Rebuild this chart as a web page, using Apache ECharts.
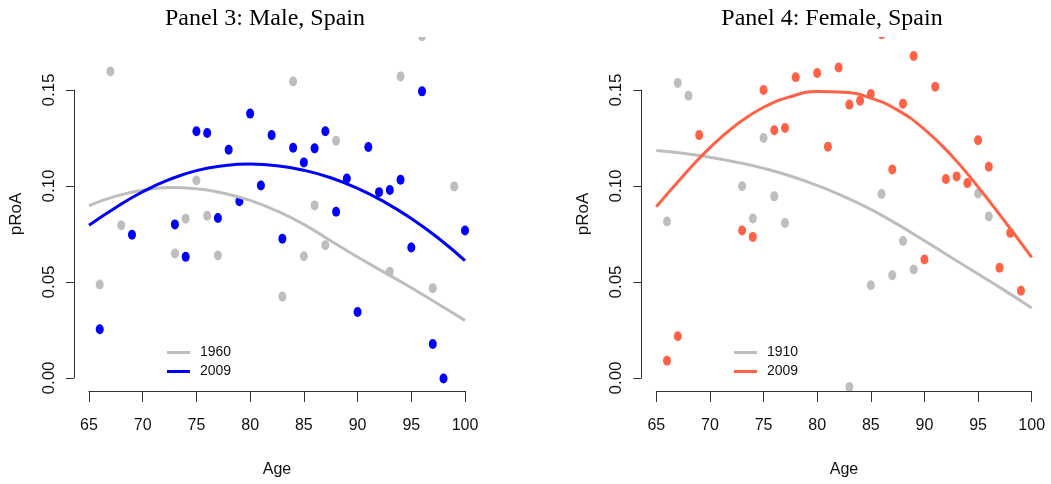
<!DOCTYPE html>
<html>
<head>
<meta charset="utf-8">
<script src="https://cdn.jsdelivr.net/npm/echarts@6/dist/echarts.min.js"></script>
<style>
  html, body { margin: 0; padding: 0; background: #fff; }
  #chart { width: 1051px; height: 484px; }
</style>
</head>
<body>
<div id="chart"></div>
<script>
// ---- data ----
const xTickLabels = ['65', '70', '75', '80', '85', '90', '95', '100']
const yTickLabels = ['0.00', '0.05', '0.10', '0.15']

// Panel 3: Male, Spain
const maleAges1960 = [66, 67, 68, 73, 74, 75, 76, 77, 83, 84, 85, 86, 87, 88, 93, 94, 96, 97, 99]
const maleRoA1960 = [0.0487, 0.1596, 0.0796, 0.0648, 0.0829, 0.1029, 0.0845, 0.0638, 0.0424, 0.1544,
  0.0634, 0.0899, 0.0692, 0.1236, 0.0553, 0.157, 0.178, 0.0468, 0.0998]
const maleAges2009 = [66, 69, 73, 74, 75, 76, 77, 78, 79, 80, 81, 82, 83, 84, 85, 86, 87, 88, 89, 90,
  91, 92, 93, 94, 95, 96, 97, 98, 100]
const maleRoA2009 = [0.0254, 0.0746, 0.080, 0.0631, 0.1285, 0.1276, 0.0833, 0.1189, 0.0921, 0.1377,
  0.1003, 0.1265, 0.0725, 0.1199, 0.1123, 0.1196, 0.1285, 0.0866, 0.1039, 0.0344,
  0.1203, 0.0968, 0.0979, 0.1033, 0.068, 0.1493, 0.0177, -0.0003, 0.0768]

// Panel 4: Female, Spain
const femaleAges1910 = [66, 67, 68, 73, 74, 75, 76, 77, 83, 85, 86, 87, 88, 89, 95, 96]
const femaleRoA1910 = [0.0815, 0.1537, 0.147, 0.0999, 0.0831, 0.125, 0.0946, 0.0807, -0.0047, 0.0483,
  0.0958, 0.0535, 0.0714, 0.0565, 0.0961, 0.0841]
const femaleAges2009 = [66, 67, 69, 73, 74, 75, 76, 77, 78, 80, 81, 82, 83, 84, 85, 86, 87, 88, 89, 90,
  91, 92, 93, 94, 95, 96, 97, 98, 99]
const femaleRoA2009 = [0.009, 0.0217, 0.1265, 0.0768, 0.0735, 0.150, 0.129, 0.1302, 0.1566, 0.1589,
  0.1205, 0.1617, 0.1424, 0.1444, 0.1479, 0.179, 0.1086, 0.1429, 0.1677, 0.0617,
  0.1517, 0.1036, 0.105, 0.1015, 0.1238, 0.110, 0.0574, 0.0756, 0.0454]

// fitted curves
const curveAges = [65, 67.5, 70, 72.5, 75, 77.5, 80, 82.5, 85, 87.5, 90, 92.5, 95, 97.5, 100]
const maleCurve1960 = [0.0898, 0.0947, 0.0978, 0.0992, 0.0986, 0.0963, 0.0925, 0.0870, 0.0800, 0.0715,
  0.0630, 0.0550, 0.0470, 0.0385, 0.0300]
const maleCurve2009 = [0.0796, 0.0888, 0.0970, 0.1034, 0.1080, 0.1105, 0.1114, 0.1106, 0.1082, 0.1043,
  0.0988, 0.0917, 0.0831, 0.0729, 0.0611]
const femaleCurve1910 = [0.1185, 0.1170, 0.1150, 0.1124, 0.1092, 0.1052, 0.1003, 0.0945, 0.0878, 0.0800,
  0.0715, 0.0628, 0.0542, 0.0455, 0.0365]
const femaleCurve2009 = [0.0892, 0.1052, 0.1200, 0.1320, 0.1410, 0.1465, 0.1492, 0.1488, 0.1458, 0.1395,
  0.1295, 0.1160, 0.0995, 0.0815, 0.0628]

const GRAY = '#BEBEBE'
const BLUE = '#0000FF'
const TOMATO = '#FF6347'
const AXIS = '#333'
const SANS = '"Liberation Sans", Arial, sans-serif'

const panels = [
  {
    title: 'Panel 3: Male, Spain', titleX: 260,
    x65: 89, x100: 465, y15: 90, y0: 378, top: 37, bottom: 391,
    old: { key: 'm1960', ages: maleAges1960, vals: maleRoA1960, curve: maleCurve1960, color: GRAY },
    now: { key: 'm2009', ages: maleAges2009, vals: maleRoA2009, curve: maleCurve2009, color: BLUE },
    legendLeft: 167
  },
  {
    title: 'Panel 4: Female, Spain', titleX: 827,
    x65: 656.3, x100: 1031.7, y15: 90, y0: 378, top: 37, bottom: 391,
    old: { key: 'f1910', ages: femaleAges1910, vals: femaleRoA1910, curve: femaleCurve1910, color: GRAY },
    now: { key: 'f2009', ages: femaleAges2009, vals: femaleRoA2009, curve: femaleCurve2009, color: TOMATO },
    legendLeft: 734
  }
]

function pairs(xs, ys) {
  return xs.map((x, i) => [x, ys[i]])
}

const option = {
  backgroundColor: '#fff',
  animation: false,
  title: [], grid: [], xAxis: [], yAxis: [], series: [], legend: [], graphic: []
}

panels.forEach((p, k) => {
  const pxYear = (p.x100 - p.x65) / 35
  const pxUnit = (p.y0 - p.y15) / 0.15
  const left = p.x65 - 1.4 * pxYear
  const width = (p.x100 - p.x65) + 2.8 * pxYear
  const yMin = -(p.bottom - p.y0) / pxUnit
  const yMax = 0.15 + (p.y15 - p.top) / pxUnit
  const g = k * 3

  // data grid (R plot region)
  option.grid.push({ left: left, top: p.top, width: width, height: p.bottom - p.top })
  option.xAxis.push({ gridIndex: g, type: 'value', min: 63.6, max: 101.4, show: false })
  option.yAxis.push({ gridIndex: g, type: 'value', min: yMin, max: yMax, show: false })

  // x axis from 65 to 100
  option.grid.push({ left: p.x65, top: p.top, width: p.x100 - p.x65, height: p.bottom - p.top })
  option.xAxis.push({
    gridIndex: g + 1, type: 'value', min: 65, max: 100, interval: 5, z: 100,
    axisLine: { show: true, lineStyle: { color: AXIS, width: 1 } },
    axisTick: { show: true, length: 11, lineStyle: { color: AXIS } },
    axisLabel: { margin: 27, fontFamily: SANS, fontSize: 16, color: '#111',
      formatter: (v) => xTickLabels[Math.round((v - 65) / 5)] },
    splitLine: { show: false }
  })
  option.yAxis.push({ gridIndex: g + 1, type: 'value', show: false })

  // y axis from 0 to 0.15
  option.grid.push({ left: left, top: p.y15, width: width, height: p.y0 - p.y15 })
  option.xAxis.push({ gridIndex: g + 2, type: 'value', show: false })
  option.yAxis.push({
    gridIndex: g + 2, type: 'value', min: 0, max: 0.15, interval: 0.05, z: 100,
    axisLine: { show: true, lineStyle: { color: AXIS, width: 1 } },
    axisTick: { show: true, length: 8, lineStyle: { color: AXIS } },
    axisLabel: { rotate: 90, margin: 16, fontFamily: SANS, fontSize: 17, color: '#111',
      formatter: (v) => yTickLabels[Math.round(v / 0.05)] },
    splitLine: { show: false }
  })

  ;[p.old, p.now].forEach((s) => {
    option.series.push({
      type: 'scatter', xAxisIndex: g, yAxisIndex: g, clip: false,
      symbol: 'circle', symbolSize: [8, 10],
      itemStyle: { color: s.color, opacity: 1 },
      data: pairs(s.ages, s.vals)
    })
  })
  ;[p.old, p.now].forEach((s) => {
    option.series.push({
      type: 'line', name: s.key, xAxisIndex: g, yAxisIndex: g,
      smooth: 0.5, showSymbol: false, color: s.color,
      lineStyle: { color: s.color, width: 3 },
      data: pairs(curveAges, s.curve)
    })
  })

  option.legend.push({
    data: [p.old.key, p.now.key],
    orient: 'vertical', left: p.legendLeft, top: 345, padding: 0,
    icon: 'rect', itemWidth: 23, itemHeight: 3, itemGap: 4,
    selectedMode: false,
    formatter: (name) => name.slice(1),
    textStyle: { fontFamily: SANS, fontSize: 14, lineHeight: 15, color: '#111', padding: [0, 0, 0, 5] }
  })

  option.title.push({
    text: p.title, left: p.titleX, top: 2, textAlign: 'center', z: 100,
    textStyle: { fontFamily: '"Liberation Serif", "DejaVu Serif", serif', fontSize: 24,
      fontWeight: 'normal', color: '#000' }
  })

  // white masks that clip points outside the plot region, as R does
  option.graphic.push({
    type: 'rect', z: 50, silent: true,
    shape: { x: left - 6, y: 0, width: width + 12, height: p.top },
    style: { fill: '#fff' }
  })
  option.graphic.push({
    type: 'rect', z: 50, silent: true,
    shape: { x: left - 6, y: p.bottom, width: width + 12, height: 8 },
    style: { fill: '#fff' }
  })

  // axis titles
  option.graphic.push({
    type: 'text', z: 100, x: left - 58, y: (p.top + p.bottom) / 2, rotation: Math.PI / 2,
    style: { text: 'pRoA', font: '17px ' + SANS, fill: '#111', align: 'center', verticalAlign: 'middle' }
  })
  option.graphic.push({
    type: 'text', z: 100, x: (p.x65 + p.x100) / 2, y: 470,
    style: { text: 'Age', font: '16px ' + SANS, fill: '#111', align: 'center', verticalAlign: 'middle' }
  })
})

const chart = echarts.init(document.getElementById('chart'), null, { renderer: 'canvas' })
chart.setOption(option)
</script>
</body>
</html>
